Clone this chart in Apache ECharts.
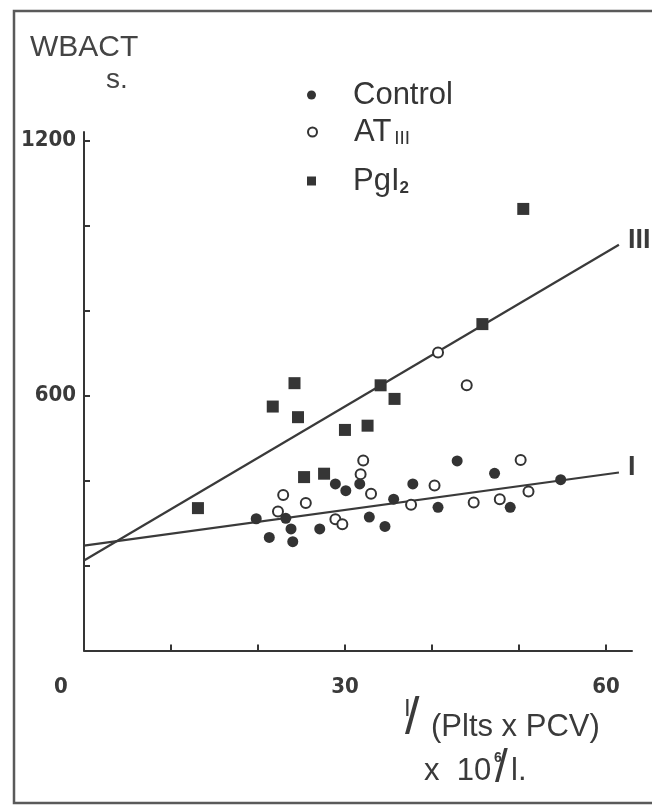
<!DOCTYPE html>
<html>
<head>
<meta charset="utf-8">
<script src="https://cdn.jsdelivr.net/npm/echarts@6/dist/echarts.min.js"></script>
<style>
html,body{margin:0;padding:0;background:#fff;}
#c{width:652px;height:809px;}
</style>
</head>
<body>
<div id="c"></div>
<script>
// ---- data ----
var controlX = [19.8, 21.3, 23.2, 23.8, 24.0, 27.1, 28.9, 30.1, 31.7, 32.8, 34.6, 35.6, 37.8, 40.7, 42.9, 47.2, 49.0, 54.8];
var controlY = [310, 266, 311, 286, 256, 286, 392, 376, 392, 314, 292, 356, 392, 337, 446, 417, 337, 402];

var at3X = [22.3, 22.9, 25.5, 28.9, 29.7, 31.8, 32.1, 33.0, 37.6, 40.3, 40.7, 44.0, 44.8, 47.8, 50.2, 51.1];
var at3Y = [327, 366, 347, 309, 297, 415, 447, 369, 343, 388, 701, 624, 348, 356, 448, 374];

var pgi2X = [13.1, 21.7, 24.2, 24.6, 25.3, 27.6, 30.0, 32.6, 34.1, 35.7, 45.8, 50.5];
var pgi2Y = [335, 574, 629, 549, 408, 416, 519, 529, 624, 592, 768, 1039];

// regression lines (end points)
var lineIX = [0, 61.5];
var lineIY = [246.6, 418.8];
var lineIIIX = [0, 61.5];
var lineIIIY = [211.6, 954.6];

var xTicks = [10, 20, 30, 40, 50, 60];
var xLabels = [0, 30, 60];
var yTicks = [200, 400, 600, 800, 1000, 1200];
var yLabels = [600, 1200];

var seriesNames = ['Control', 'AT III', 'PgI2'];

function pairs(xs, ys) { return xs.map(function (x, i) { return [x, ys[i]]; }); }

var ink = '#353535';
var digitFont = "'Liberation Sans Narrow','DejaVu Sans Condensed','Liberation Sans',sans-serif";
var textFont = "'Liberation Sans','Noto Sans',sans-serif";

var chart = echarts.init(document.getElementById('c'), null, {renderer: 'canvas'});

var legendBase = {
  orient: 'horizontal',
  padding: 0,
  itemWidth: 9,
  itemHeight: 9,
  textStyle: {fontFamily: textFont, fontSize: 31, color: ink, lineHeight: 32, padding: [0, 0, 0, 32],
    rich: {
      a: {fontFamily: textFont, fontSize: 31, color: ink, lineHeight: 32},
      s: {fontFamily: textFont, fontSize: 19, color: ink, lineHeight: 32, verticalAlign: 'bottom', padding: [0,0,0,3]},
      b: {fontFamily: textFont, fontSize: 17, fontWeight: 'bold', color: ink, lineHeight: 32, verticalAlign: 'bottom', padding: [0,0,0,0]}
    }
  },
  formatter: function (n) {
    if (n === 'AT III') return '{a|AT}{s|III}';
    if (n === 'PgI2') return '{a|PgI}{b|2}';
    return '{a|' + n + '}';
  }
};

var option = {
  backgroundColor: '#ffffff',
  animation: false,
  grid: {left: 84, top: 132, width: 548, height: 518.5},
  legend: [
    Object.assign({}, legendBase, {data: [seriesNames[0]], left: 307, top: 79}),
    Object.assign({}, legendBase, {data: [seriesNames[1]], left: 307, top: 116}),
    Object.assign({}, legendBase, {data: [seriesNames[2]], left: 307, top: 165})
  ],
  xAxis: {
    type: 'value', min: 0, max: 63, interval: 10,
    axisLine: {show: true, onZero: false, lineStyle: {color: ink, width: 2}},
    axisTick: {show: true, inside: true, length: 6, customValues: xTicks, lineStyle: {color: ink, width: 2}},
    splitLine: {show: false},
    axisLabel: {
      customValues: xLabels, margin: 26,
      fontFamily: digitFont, fontWeight: 'bold', fontSize: 22, color: '#3a3a3a',
      formatter: function (v) { return v === 0 ? '{z|0}' : String(v); },
      rich: {z: {fontFamily: digitFont, fontWeight: 'bold', fontSize: 22, color: '#3a3a3a', padding: [0, 46, 0, 0]}}
    }
  },
  yAxis: {
    type: 'value', min: 0, max: 1220, interval: 200,
    axisLine: {show: true, onZero: false, lineStyle: {color: ink, width: 2}},
    axisTick: {show: true, inside: true, length: 6, customValues: yTicks, lineStyle: {color: ink, width: 2}},
    splitLine: {show: false},
    axisLabel: {
      customValues: yLabels, margin: 8,
      fontFamily: digitFont, fontWeight: 'bold', fontSize: 22, color: '#3a3a3a',
      formatter: function (v) { return String(v); }
    }
  },
  series: [
    {
      name: 'lineI', type: 'line', data: pairs(lineIX, lineIY), showSymbol: false, symbol: 'none',
      lineStyle: {color: '#3a3a3a', width: 2.2}, z: 1, silent: true,
      endLabel: {show: true, formatter: 'I', fontFamily: textFont, fontWeight: 'bold', fontSize: 27, color: '#3a3a3a', distance: 9, offset: [0, -5]}
    },
    {
      name: 'lineIII', type: 'line', data: pairs(lineIIIX, lineIIIY), showSymbol: false, symbol: 'none',
      lineStyle: {color: '#3a3a3a', width: 2.2}, z: 1, silent: true,
      endLabel: {show: true, formatter: 'III', fontFamily: textFont, fontWeight: 'bold', fontSize: 27, color: '#3a3a3a', distance: 9, offset: [0, -4]}
    },
    {
      name: 'Control', type: 'scatter', data: pairs(controlX, controlY),
      symbol: 'circle', symbolSize: 11, itemStyle: {color: '#333333', opacity: 1}, z: 3
    },
    {
      name: 'AT III', type: 'scatter', data: pairs(at3X, at3Y),
      symbol: 'emptyCircle', symbolSize: 10, itemStyle: {color: '#333333', borderColor: '#333333', borderWidth: 1.6, opacity: 1}, z: 3
    },
    {
      name: 'PgI2', type: 'scatter', data: pairs(pgi2X, pgi2Y),
      symbol: 'rect', symbolSize: 12, itemStyle: {color: '#353535', opacity: 1}, z: 3
    }
  ],
  graphic: [
    {type: 'polyline', shape: {points: [[652, 11], [14, 11], [14, 803], [652, 803]]}, style: {stroke: '#5a5a5a', lineWidth: 2.5, fill: 'none'}, silent: true},
    {type: 'text', left: 30, top: 33, style: {text: 'WBACT', font: '30px ' + textFont, fill: '#444'}},
    {type: 'text', left: 106, top: 66, style: {text: 's.', font: '28px ' + textFont, fill: '#444'}},
    {type: 'text', left: 404, top: 697, style: {text: 'I', font: '24px ' + textFont, fill: '#3a3a3a'}},
    {type: 'text', left: 405, top: 694, style: {text: '/', font: '52px ' + textFont, fill: '#3a3a3a'}},
    {type: 'text', left: 431, top: 712, style: {text: '(Plts x PCV)', font: '31px ' + textFont, fill: '#3a3a3a'}},
    {type: 'text', left: 424, top: 756, style: {text: 'x  10', font: '31px ' + textFont, fill: '#3a3a3a'}},
    {type: 'text', left: 494, top: 751, style: {text: '6', font: 'bold 14px ' + textFont, fill: '#3a3a3a'}},
    {type: 'text', left: 495, top: 746, style: {text: '/', font: '46px ' + textFont, fill: '#3a3a3a'}},
    {type: 'text', left: 511, top: 756, style: {text: 'l.', font: '31px ' + textFont, fill: '#3a3a3a'}}
  ]
};

chart.setOption(option);
</script>
</body>
</html>
